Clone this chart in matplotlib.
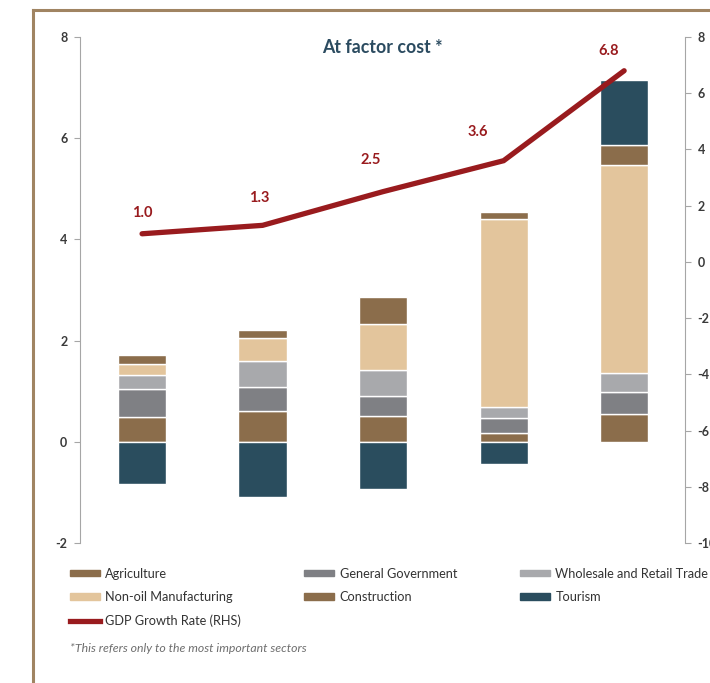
import matplotlib.pyplot as plt
from matplotlib.patches import Patch
from matplotlib.lines import Line2D

plt.rcParams['font.family'] = ['Lato', 'DejaVu Sans']
plt.rcParams['axes.unicode_minus'] = False

# data
years = [0, 1, 2, 3, 4]
agriculture = [0.50, 0.61, 0.51, 0.18, 0.55]
general_gov = [0.54, 0.47, 0.40, 0.29, 0.43]
wholesale = [0.28, 0.52, 0.51, 0.21, 0.38]
non_oil = [0.22, 0.455, 0.91, 3.73, 4.11]
construction = [0.17, 0.16, 0.54, 0.14, 0.40]
tourism = [-0.84, -1.09, -0.935, -0.44, 1.28]
gdp_growth = [1.0, 1.3, 2.5, 3.6, 6.8]
label_offsets = [(0, 21), (-3, 27), (-12, 32), (-26, 29), (-16, 20)]

c_brown = '#8b6d4b'
c_dgray = '#7f8084'
c_lgray = '#a8a9ac'
c_sand = '#e3c59c'
c_teal = '#2a4d5e'
c_red = '#991b1e'
c_axis = '#a6a6a6'
c_tick = '#3a3a3a'

fig = plt.figure(figsize=(7.10, 6.83), dpi=100)
ax = fig.add_axes([80 / 710, 1 - 543 / 683, 605 / 710, 506 / 683])

series = [agriculture, general_gov, wholesale, non_oil, construction]
colors = [c_brown, c_dgray, c_lgray, c_sand, c_brown]
bottom = [0.0] * len(years)
for vals, col in zip(series, colors):
    ax.bar(years, vals, width=0.4, bottom=bottom, color=col,
           edgecolor='white', linewidth=1)
    bottom = [b + v for b, v in zip(bottom, vals)]

# tourism: negative goes below zero, positive stacks on top
t_bottom = [b if t > 0 else 0 for b, t in zip(bottom, tourism)]
ax.bar(years, tourism, width=0.4, bottom=t_bottom, color=c_teal,
       edgecolor='white', linewidth=1)

ax.set_xlim(-0.515, 4.505)
ax.set_ylim(-2, 8)
ax.set_yticks([-2, 0, 2, 4, 6, 8])
ax.set_xticks([])
for s in ['top', 'bottom', 'right']:
    ax.spines[s].set_visible(False)
ax.spines['left'].set_color(c_axis)
ax.tick_params(axis='y', colors=c_axis, labelcolor=c_tick, length=4,
               labelsize=9, pad=5)
for t in ax.get_yticklabels():
    t.set_fontweight('bold')

ax2 = ax.twinx()
ax2.plot(years, gdp_growth, color=c_red, linewidth=3.8,
         solid_capstyle='round', solid_joinstyle='miter')
ax2.set_ylim(-10, 8)
ax2.set_yticks(range(-10, 9, 2))
for s in ['top', 'bottom', 'left']:
    ax2.spines[s].set_visible(False)
ax2.spines['right'].set_color(c_axis)
ax2.tick_params(axis='y', colors=c_axis, labelcolor=c_tick, length=4,
                labelsize=9, pad=5)
for t in ax2.get_yticklabels():
    t.set_fontweight('bold')

for x, v, off in zip(years, gdp_growth, label_offsets):
    ax2.annotate(f'{v:.1f}', (x, v), xytext=off, textcoords='offset pixels',
                 ha='center', va='center', color=c_red, fontsize=10.5,
                 fontweight='bold')

ax.text(0.5, 0.98, 'At factor cost *', transform=ax.transAxes,
        ha='center', va='center', color='#2b4b60', fontsize=12.8,
        fontweight='bold')

# legend (column-first ordering)
h_agri = Patch(color=c_brown, label='Agriculture')
h_gov = Patch(color=c_dgray, label='General Government')
h_whole = Patch(color=c_lgray, label='Wholesale and Retail Trade')
h_non = Patch(color=c_sand, label='Non-oil Manufacturing')
h_cons = Patch(color=c_brown, label='Construction')
h_tour = Patch(color=c_teal, label='Tourism')
h_gdp = Line2D([], [], color=c_red, linewidth=3.8, label='GDP Growth Rate (RHS)')
handles = [h_agri, h_non, h_gdp, h_gov, h_cons, h_whole, h_tour]
fig.legend(handles=handles, ncol=3, loc='upper left',
           bbox_to_anchor=(58 / 710, 1 - 556 / 683), frameon=False,
           fontsize=9.2, handlelength=2.4, handleheight=0.45,
           handletextpad=0.4, columnspacing=4.9, labelspacing=0.9,
           labelcolor='#333333')

fig.text(70 / 710, 1 - 648 / 683,
         '*This refers only to the most important sectors',
         ha='left', va='center', fontsize=8.8, style='italic',
         color='#6e6e6e')

# brown frame
frame_col = '#a08462'
fig.add_artist(Line2D([33 / 710, 33 / 710], [0, 1 - 10 / 683],
                      transform=fig.transFigure, color=frame_col, lw=2.2))
fig.add_artist(Line2D([33 / 710, 1], [1 - 10 / 683, 1 - 10 / 683],
                      transform=fig.transFigure, color=frame_col, lw=2.2))

fig.savefig('out.png', dpi=100)
